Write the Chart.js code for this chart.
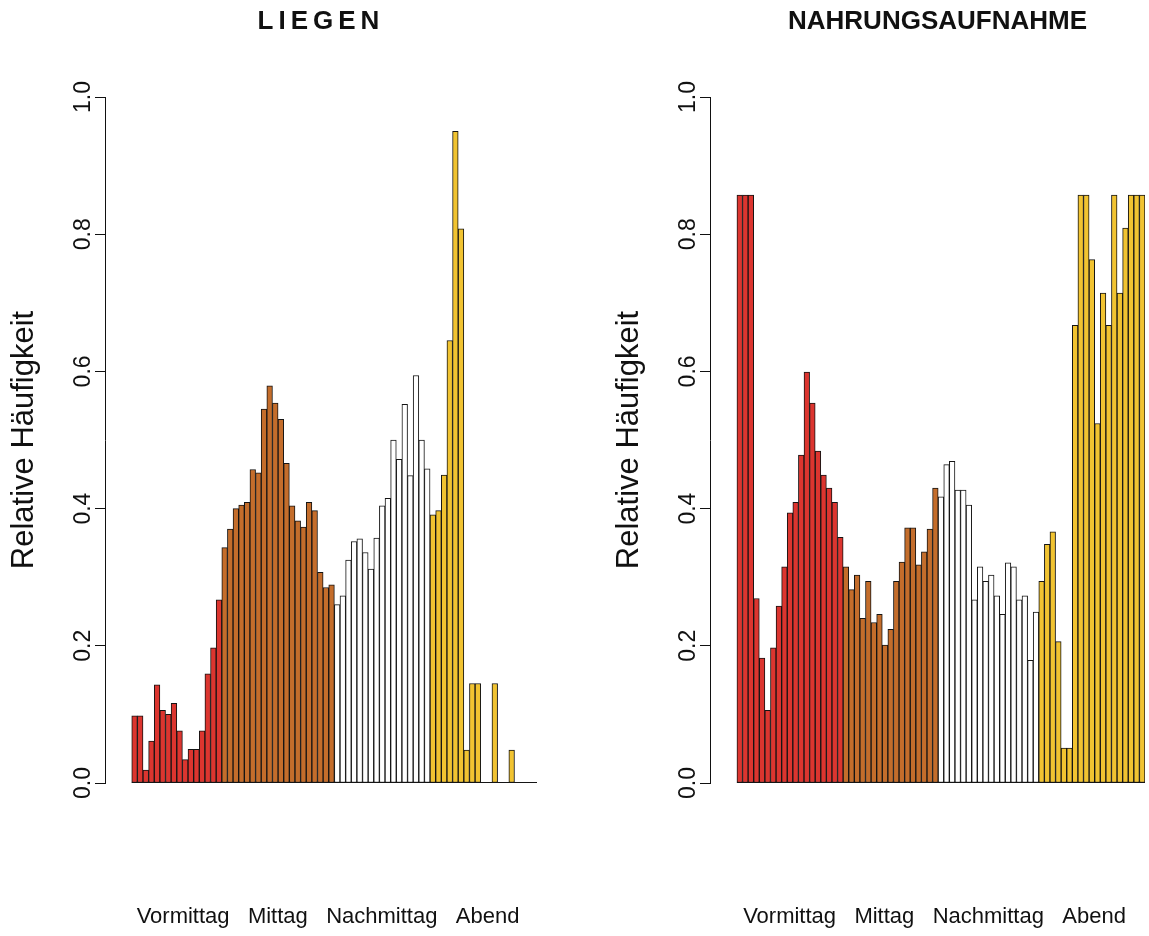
<!DOCTYPE html>
<html>
<head>
<meta charset="utf-8">
<script src="https://cdn.jsdelivr.net/npm/chart.js@4"></script>
<style>
  html, body { margin: 0; padding: 0; background: #ffffff; }
  #wrap { position: relative; width: 1149px; height: 936px; overflow: hidden; background: #ffffff; }
  #wrap canvas { position: absolute; top: 0; }
</style>
</head>
<body>
<div id="wrap">
  <canvas id="liegen" width="605" height="936" style="left:0px"></canvas>
  <canvas id="nahrung" width="544" height="936" style="left:605px"></canvas>
</div>
<script>
// Tagesabschnitte und Achsenwerte
const phaseNames = ['Vormittag', 'Mittag', 'Nachmittag', 'Abend'];
const yTicks = [0, 0.2, 0.4, 0.6, 0.8, 1.0];

// LIEGEN: relative Häufigkeit je Zeitfenster
const liegenValues = [
  0.098, 0.098, 0.019, 0.061, 0.143, 0.106, 0.100, 0.116, 0.076, 0.034,
  0.049, 0.049, 0.076, 0.159, 0.197, 0.267, 0.343, 0.370, 0.400, 0.405,
  0.409, 0.457, 0.452, 0.545, 0.579, 0.554, 0.530, 0.466, 0.404, 0.382,
  0.373, 0.409, 0.397, 0.307, 0.285, 0.289, 0.260, 0.273, 0.325, 0.352,
  0.356, 0.336, 0.312, 0.357, 0.404, 0.415, 0.500, 0.472, 0.552, 0.448,
  0.594, 0.500, 0.458, 0.391, 0.397, 0.449, 0.645, 0.950, 0.808, 0.048,
  0.145, 0.145, 0, 0, 0.145, 0, 0, 0.048, 0, 0,
  0, 0
];
// Anzahl Zeitfenster je Tagesabschnitt
const liegenPhaseCounts = [16, 20, 17, 19];

// NAHRUNGSAUFNAHME: relative Häufigkeit je Zeitfenster
const nahrungValues = [
  0.857, 0.857, 0.857, 0.269, 0.182, 0.106, 0.197, 0.258, 0.315, 0.394,
  0.409, 0.478, 0.599, 0.554, 0.484, 0.449, 0.430, 0.409, 0.358, 0.315,
  0.282, 0.303, 0.240, 0.294, 0.234, 0.246, 0.201, 0.224, 0.294, 0.322,
  0.372, 0.372, 0.318, 0.337, 0.370, 0.430, 0.417, 0.464, 0.469, 0.427,
  0.427, 0.405, 0.267, 0.315, 0.294, 0.303, 0.273, 0.246, 0.321, 0.315,
  0.267, 0.273, 0.179, 0.249, 0.294, 0.348, 0.366, 0.206, 0.051, 0.051,
  0.667, 0.857, 0.857, 0.763, 0.524, 0.714, 0.667, 0.857, 0.714, 0.809,
  0.857, 0.857, 0.857
];
const nahrungPhaseCounts = [19, 17, 18, 19];

// Füllfarben der Tagesabschnitte
const phaseColors = ['#DC352F', '#C46D2B', '#FFFFFF', '#F1C331'];

Chart.defaults.font.family = "'Liberation Sans', Arial, sans-serif";
Chart.defaults.color = '#111111';

function colorsFor(counts) {
  const out = [];
  counts.forEach((c, k) => { for (let i = 0; i < c; i++) out.push(phaseColors[k]); });
  return out;
}

// Titel, Grundlinie und Beschriftung der Tagesabschnitte
const panelDecor = {
  id: 'panelDecor',
  afterDatasetsDraw(chart) {
    const { ctx, scales: { x, y } } = chart;
    const n = chart.data.datasets[0].data.length;
    const y0 = y.getPixelForValue(0) - 0.5;
    ctx.save();
    ctx.strokeStyle = '#151515';
    ctx.lineWidth = 1;
    ctx.beginPath();
    ctx.moveTo(x.getPixelForValue(-0.5), y0);
    ctx.lineTo(x.getPixelForValue(n - 0.5), y0);
    ctx.stroke();
    ctx.restore();
  },
  afterDraw(chart, args, opts) {
    const { ctx, chartArea } = chart;
    const cx = (chartArea.left + chartArea.right) / 2;
    ctx.save();
    ctx.fillStyle = '#111111';
    ctx.textAlign = 'center';
    ctx.textBaseline = 'middle';
    ctx.font = "bold 26px 'Liberation Sans', Arial, sans-serif";
    ctx.letterSpacing = opts.titleSpacing;
    ctx.fillText(opts.title, cx + opts.titleShift, 22);
    ctx.letterSpacing = '0px';
    ctx.font = "22px 'Liberation Sans', Arial, sans-serif";
    ctx.fillText(phaseNames.join('   '), cx + opts.labelShift, 917);
    ctx.restore();
  }
};

function makePanel(id, title, values, counts, padRight, titleShift, titleSpacing) {
  const n = values.length;
  return new Chart(document.getElementById(id), {
    type: 'bar',
    data: {
      datasets: [{
        data: values.map((v, i) => ({ x: i, y: v })),
        backgroundColor: colorsFor(counts),
        borderColor: '#141414',
        borderWidth: 1,
        borderSkipped: false,
        barPercentage: 1,
        categoryPercentage: 1
      }]
    },
    options: {
      responsive: false,
      animation: false,
      devicePixelRatio: 1,
      layout: { padding: { left: 0, right: padRight, top: 97, bottom: 153 } },
      plugins: {
        legend: { display: false },
        tooltip: { enabled: false },
        title: { display: false },
        panelDecor: { title: title, titleShift: titleShift, titleSpacing: titleSpacing, labelShift: 7 }
      },
      scales: {
        x: {
          type: 'linear',
          display: false,
          offset: false,
          min: -0.5 - n * 0.066,
          max: n - 0.5,
          ticks: { display: false },
          grid: { display: false }
        },
        y: {
          min: 0,
          max: 1,
          afterBuildTicks(scale) { scale.ticks = yTicks.map(v => ({ value: v })); },
          afterFit(scale) { scale.width = 105; },
          ticks: {
            autoSkip: false,
            minRotation: 90,
            maxRotation: 90,
            crossAlign: 'center',
            padding: -5,
            font: { size: 23 },
            color: '#111111',
            callback: v => Number(v).toFixed(1)
          },
          grid: {
            drawOnChartArea: false,
            drawTicks: true,
            tickLength: 10,
            color: '#111111',
            lineWidth: 1
          },
          border: { display: true, color: '#111111', width: 1 },
          title: {
            display: true,
            text: 'Relative Häufigkeit',
            font: { size: 31 },
            color: '#111111',
            padding: { top: 6, bottom: 0 }
          }
        }
      }
    },
    plugins: [panelDecor]
  });
}

makePanel('liegen', 'LIEGEN', liegenValues, liegenPhaseCounts, 68, 0, '5px');
makePanel('nahrung', 'NAHRUNGSAUFNAHME', nahrungValues, nahrungPhaseCounts, 4, 10, '0px');
</script>
</body>
</html>
